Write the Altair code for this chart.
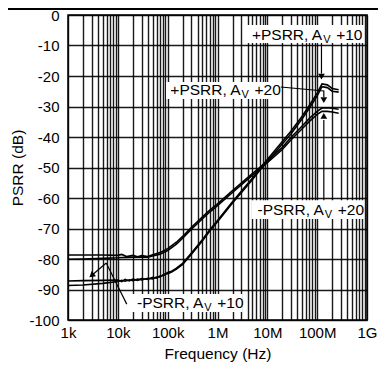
import altair as alt
import pandas as pd

# ---------------- data ----------------
freq_av10 = [1e3, 2e3, 5e3, 1e4, 1.2e4, 1.4e4, 1.7e4, 2e4, 2.5e4, 3e4, 4e4, 5e4, 6e4, 7e4,
             8.5e4, 1e5, 1.2e5, 1.5e5, 2e5, 3e5, 5e5, 7e5, 1e6, 2e6, 3e6, 5e6, 7e6, 1e7,
             2e7, 3e7, 5e7, 7e7, 1e8, 1.25e8, 1.6e8, 2e8, 2.7e8]
pos_av10 = [-87.2, -87.1, -87.0, -86.9, -87.4, -86.7, -87.2, -86.6, -87.0, -86.4, -86.7, -86.0,
            -86.3, -85.6, -85.3, -84.4, -84.0, -83.0, -81.4, -78.0, -73.6, -70.4, -67.4, -61.2,
            -57.8, -53.5, -50.5, -47.4, -41.5, -38.0, -33.2, -29.6, -25.6, -22.6, -22.9, -24.1, -24.5]
neg_av10 = [-88.7, -88.5, -88.0, -87.4, -87.0, -87.3, -86.8, -87.1, -86.6, -86.9, -86.3, -86.5,
            -85.9, -85.9, -85.0, -84.8, -84.3, -83.3, -81.8, -78.4, -74.0, -70.8, -67.8, -61.6,
            -58.3, -54.0, -51.0, -48.0, -42.3, -38.9, -34.0, -30.5, -26.5, -23.5, -23.8, -25.0, -25.3]

freq_av20 = [1e3, 2e3, 5e3, 1e4, 1.2e4, 1.5e4, 2e4, 2.5e4, 3e4, 4e4, 5e4, 7e4, 1e5, 1.5e5, 2e5,
             3e5, 5e5, 7e5, 1e6, 2e6, 3e6, 5e6, 7e6, 1e7, 2e7, 3e7, 5e7, 7e7, 1e8, 1.25e8,
             1.6e8, 2e8, 2.7e8]
pos_av20 = [-78.7, -78.7, -78.7, -78.8, -78.5, -79.2, -78.8, -79.3, -78.9, -79.2, -78.6, -77.9,
            -76.6, -74.5, -72.6, -69.6, -66.2, -64.0, -61.9, -57.6, -55.1, -52.0, -50.0, -47.8,
            -43.4, -40.1, -36.4, -33.9, -31.6, -30.5, -30.4, -30.6, -30.9]
neg_av20 = [-80.1, -80.0, -79.8, -79.6, -79.5, -79.5, -79.4, -79.4, -79.3, -79.4, -79.0, -78.4,
            -77.2, -75.1, -73.2, -70.2, -66.8, -64.6, -62.5, -58.2, -55.7, -52.6, -50.6, -48.4,
            -44.1, -40.9, -37.3, -34.9, -32.6, -31.6, -31.6, -31.8, -32.2]

x_ticks = [k * 10 ** d for d in range(3, 9) for k in range(1, 10)] + [1e9]
x_tick_names = {1e3: "1k", 1e4: "10k", 1e5: "100k", 1e6: "1M", 1e7: "10M", 1e8: "100M", 1e9: "1G"}
y_ticks = list(range(-100, 1, 10))

# annotation labels: anchor (right end of "A"), baseline
lab_f = [1.26e8, 2.9e6, 1.36e8, 5.19e5]
lab_db = [-8.2, -26.2, -65.6, -96.1]
lab_main = ["+PSRR, A", "+PSRR, A", "-PSRR, A", "-PSRR, A"]
lab_tail = ["+10", "+20", "+20", "+10"]
# white label boxes
box_f1 = [3.64e6, 9.28e4, 4.78e6, 1.82e4]
box_f2 = [8.73e8, 1.86e7, 8.73e8, 3.18e6]
box_db1 = [-3.3, -22.0, -60.7, -91.5]
box_db2 = [-9.2, -27.5, -66.9, -97.4]
# leader lines (polyline id, f, dB)
lead_id = [1, 1, 2, 2, 2, 3, 3, 4, 4, 5, 5]
lead_f = [1.22e8, 1.22e8, 1.86e7, 1.36e8, 1.36e8, 1.36e8, 1.36e8, 5.85e3, 2.98e3, 5.85e3, 1.51e4]
lead_db = [-9.2, -19.2, -23.6, -24.9, -26.9, -60.7, -34.4, -81.3, -85.4, -81.3, -94.8]
# arrow heads
head_f = [1.22e8, 1.36e8, 1.36e8, 2.98e3]
head_db = [-20.2, -27.9, -33.1, -85.4]
head_angle = [180, 180, 0, 230]

# ---------------- tables ----------------
rows = []
for name, fr, vals in [("+PSRR, AV +10", freq_av10, pos_av10), ("-PSRR, AV +10", freq_av10, neg_av10),
                       ("+PSRR, AV +20", freq_av20, pos_av20), ("-PSRR, AV +20", freq_av20, neg_av20)]:
    for f, v in zip(fr, vals):
        rows.append({"series": name, "f": f, "db": v})
curves = pd.DataFrame(rows)
labels = pd.DataFrame({"f": lab_f, "db": lab_db, "main": lab_main, "tail": lab_tail})
boxes = pd.DataFrame({"f1": box_f1, "f2": box_f2, "db1": box_db1, "db2": box_db2})
leads = pd.DataFrame({"id": lead_id, "f": lead_f, "db": lead_db})
leads["index"] = range(len(leads))
heads = pd.DataFrame({"f": head_f, "db": head_db, "angle": head_angle})

FONT = "Liberation Sans"
label_expr = " : ".join(f"datum.value == {int(k)} ? '{v}'" for k, v in x_tick_names.items()) + " : ''"

xscale = alt.Scale(type="log", domain=[1e3, 1e9], nice=False)
yscale = alt.Scale(domain=[-100, 0], nice=False)
xax = alt.Axis(values=x_ticks, labelExpr=label_expr, title="Frequency (Hz)", ticks=False,
               domain=False, labelOverlap=False, labelFlush=False, labelPadding=5,
               titlePadding=6)
yax = alt.Axis(values=y_ticks, labelExpr="datum.value < 0 ? '-' + (-datum.value) : '' + datum.value",
               title="PSRR (dB)", ticks=False, domain=False, labelFlush=False, labelOverlap=False,
               labelPadding=9, titlePadding=3)

X = lambda field: alt.X(field, scale=xscale, axis=xax)
Y = lambda field: alt.Y(field, scale=yscale, axis=yax)

lines = alt.Chart(curves).mark_line(color="black", strokeWidth=1.6).encode(
    x=X("f:Q"), y=Y("db:Q"), detail="series:N")

box_layer = alt.Chart(boxes).mark_rect(color="white").encode(
    x=X("f1:Q"), x2="f2:Q", y=Y("db1:Q"), y2="db2:Q")

lead_layer = alt.Chart(leads).mark_line(color="black", strokeWidth=1.2).encode(
    x=X("f:Q"), y=Y("db:Q"), detail="id:N", order=alt.Order("index:Q"))

head_layer = alt.Chart(heads).mark_point(shape="triangle-up", filled=True, color="black",
                                         size=45, opacity=1).encode(
    x=X("f:Q"), y=Y("db:Q"), angle=alt.Angle("angle:Q", scale=None))

txt_main = alt.Chart(labels).mark_text(align="right", baseline="alphabetic", font=FONT,
                                       fontSize=15.5, color="black").encode(
    x=X("f:Q"), y=Y("db:Q"), text="main:N")
txt_sub = alt.Chart(labels).mark_text(align="left", baseline="alphabetic", font=FONT,
                                      fontSize=11, color="black", dx=1, dy=3, text="V").encode(
    x=X("f:Q"), y=Y("db:Q"))
txt_tail = alt.Chart(labels).mark_text(align="left", baseline="alphabetic", font=FONT,
                                       fontSize=15.5, color="black", dx=14).encode(
    x=X("f:Q"), y=Y("db:Q"), text="tail:N")

top_rule = alt.Chart(labels).mark_rule(color="black", strokeWidth=2, clip=False).encode(
    x=alt.value(-68), x2=alt.value(310), y=alt.value(-6))

chart = alt.layer(lines, box_layer, lead_layer, head_layer, txt_main, txt_sub, txt_tail, top_rule).properties(
    width=299, height=305, padding={"left": 60, "top": 7, "right": 11, "bottom": 44},
    autosize=alt.AutoSizeParams(type="none"),
).configure_view(stroke="black", strokeWidth=1.5).configure_axis(
    grid=True, gridColor="#000000", gridWidth=1.4, gridOpacity=0.9,
    labelFont=FONT, labelFontSize=15, labelColor="black",
    titleFont=FONT, titleFontSize=15.5, titleFontWeight="normal", titleColor="black",
)

chart.save("out.html", embed_options={"renderer": "svg", "actions": False})
